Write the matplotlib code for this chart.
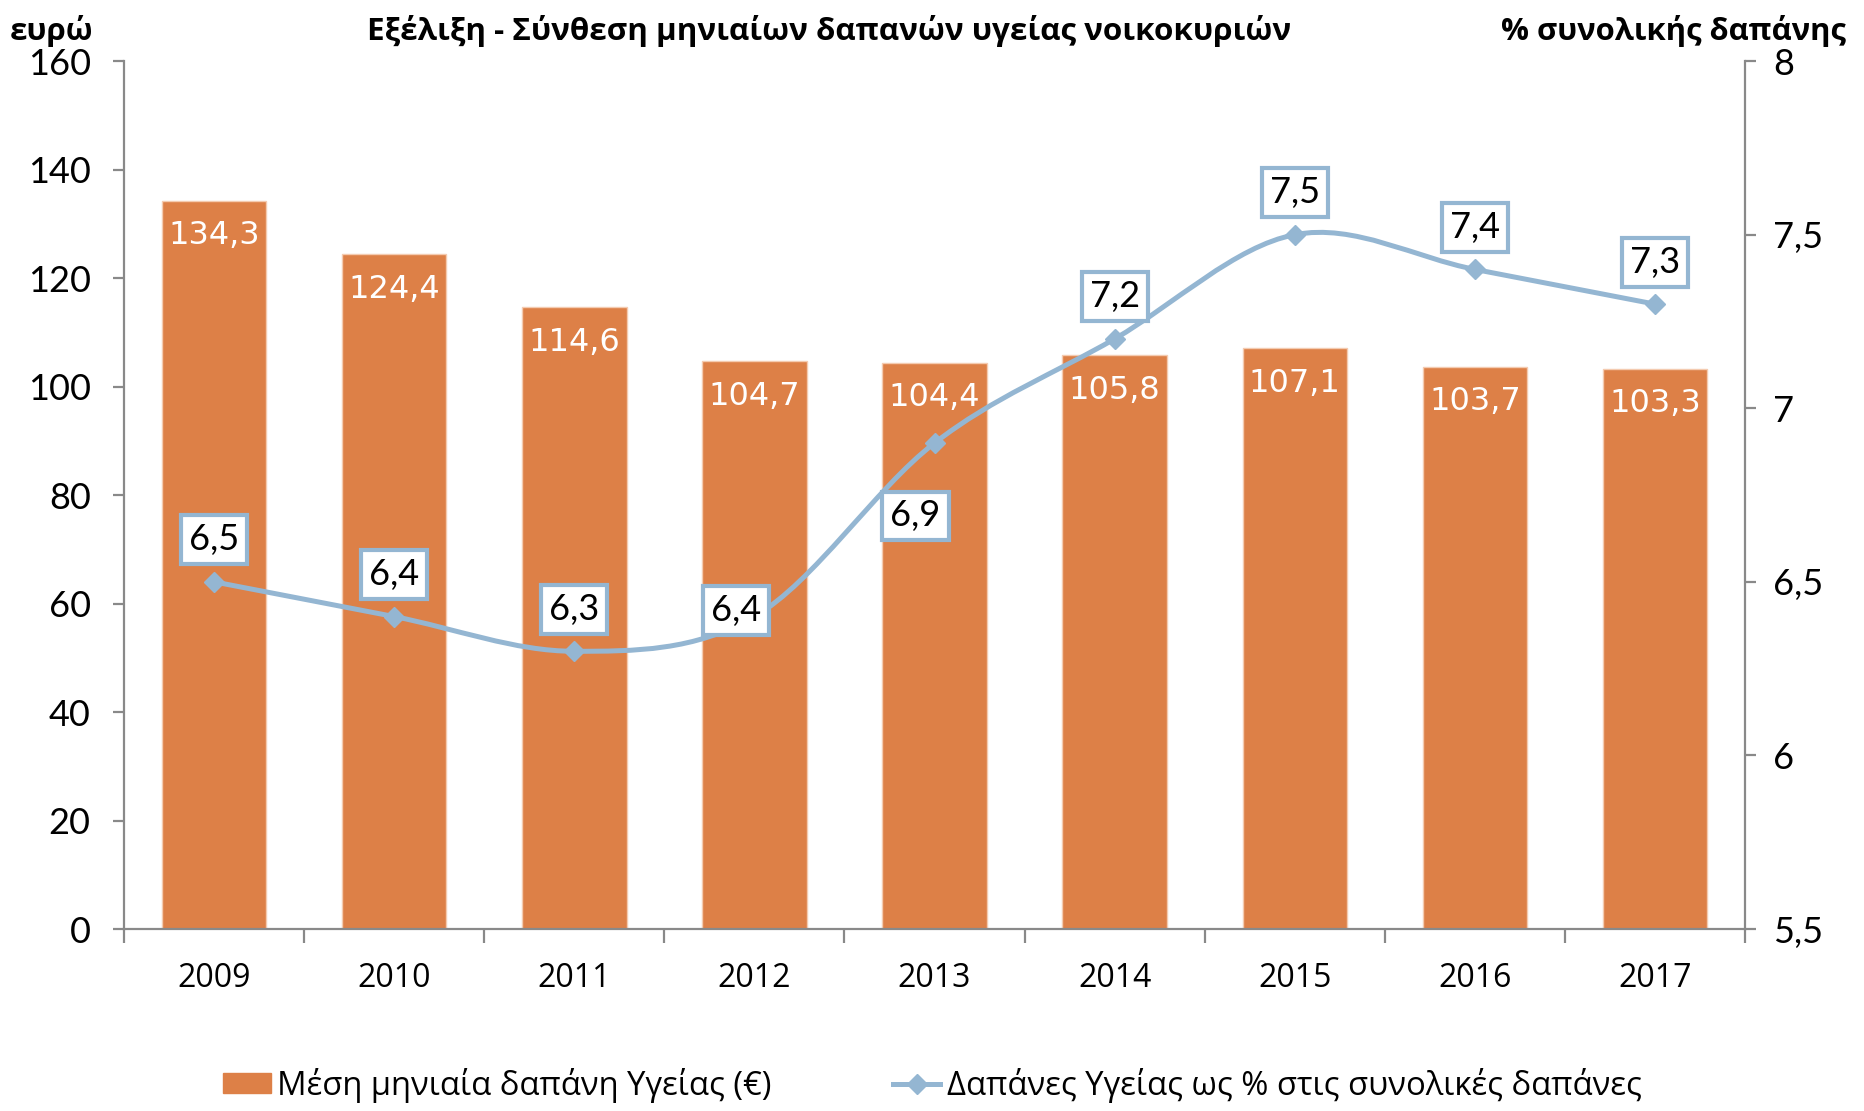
import matplotlib
matplotlib.use("Agg")
import matplotlib.pyplot as plt
from matplotlib.path import Path
from matplotlib.patches import PathPatch, Patch
from matplotlib.lines import Line2D

years = ["2009", "2010", "2011", "2012", "2013", "2014", "2015", "2016", "2017"]
spend = [134.3, 124.4, 114.6, 104.7, 104.4, 105.8, 107.1, 103.7, 103.3]
share = [6.5, 6.4, 6.3, 6.4, 6.9, 7.2, 7.5, 7.4, 7.3]
left_ticks = [0, 20, 40, 60, 80, 100, 120, 140, 160]
right_ticks = [5.5, 6.0, 6.5, 7.0, 7.5, 8.0]
right_tick_labels = ["5,5", "6", "6,5", "7", "7,5", "8"]

title = "Εξέλιξη - Σύνθεση μηνιαίων δαπανών υγείας νοικοκυριών"
left_label = "ευρώ"
right_label = "% συνολικής δαπάνης"
legend_bar = "Μέση μηνιαία δαπάνη Υγείας (€)"
legend_line = "Δαπάνες Υγείας ως % στις συνολικές δαπάνες"

BAR = "#DD8047"
LINE = "#94B6D2"
GRAY = "#898989"

plt.rcParams['font.family'] = ['Open Sans', 'DejaVu Sans']
NUMFONT = ['Lato', 'DejaVu Sans']
BARFONT = ['DejaVu Sans']

fig = plt.figure(figsize=(18.65, 11.11), dpi=100)
ax = fig.add_axes([0.0665, 0.1638, 0.8692, 0.7812])
ax2 = ax.twinx()

x = list(range(len(years)))
ax.bar(x, spend, width=0.58, color=BAR, edgecolor="#F4CBB0", linewidth=1.0, zorder=2)
ax.set_xlim(-0.5, len(years) - 0.5)
ax.set_ylim(0, 160)
ax2.set_ylim(5.5, 8)

for s in ["top", "right"]:
    ax.spines[s].set_visible(False)
for s in ["top", "left", "bottom"]:
    ax2.spines[s].set_visible(False)
for sp in [ax.spines["left"], ax.spines["bottom"], ax2.spines["right"]]:
    sp.set_color(GRAY)
    sp.set_linewidth(1.6)

ax.set_yticks(left_ticks)
ax.set_yticklabels([str(t) for t in left_ticks], fontfamily=NUMFONT)
ax.tick_params(axis='y', direction='out', length=8, width=1.6, color=GRAY,
               pad=16, labelsize=26)
ax2.set_yticks(right_ticks)
ax2.set_yticklabels(right_tick_labels, fontfamily=NUMFONT)
ax2.tick_params(axis='y', direction='out', length=8, width=1.6, color=GRAY,
                pad=12, labelsize=26)

ax.set_xticks(x)
ax.set_xticklabels(years)
ax.set_xticks([i - 0.5 for i in range(len(years) + 1)], minor=True)
ax.tick_params(axis='x', which='major', length=0, pad=23.5, labelsize=23)
ax.tick_params(axis='x', which='minor', direction='out', length=10, width=1.6, color=GRAY)

# bar value labels
for i, v in enumerate(spend):
    ax.annotate(f"{v:.1f}".replace(".", ","), xy=(i, v), xytext=(0, -35),
                textcoords='offset pixels', ha='center', va='center',
                color='white', fontsize=23, fontfamily=BARFONT, zorder=3)

# smooth line (Catmull-Rom -> cubic Bezier)
pts = list(zip(x, share))
verts = [pts[0]]
codes = [Path.MOVETO]
n = len(pts)
for i in range(n - 1):
    p0 = pts[i - 1] if i > 0 else pts[i]
    p1 = pts[i]
    p2 = pts[i + 1]
    p3 = pts[i + 2] if i + 2 < n else pts[i + 1]
    c1 = (p1[0] + (p2[0] - p0[0]) / 6.0, p1[1] + (p2[1] - p0[1]) / 6.0)
    c2 = (p2[0] - (p3[0] - p1[0]) / 6.0, p2[1] - (p3[1] - p1[1]) / 6.0)
    verts += [c1, c2, p2]
    codes += [Path.CURVE4] * 3
ax2.add_patch(PathPatch(Path(verts, codes), fill=False, edgecolor=LINE,
                        linewidth=3.6, capstyle='round', joinstyle='round', zorder=4))
ax2.plot(x, share, linestyle='none', marker='D', markersize=10, color=LINE, zorder=5)

# line value labels
offsets = [(0, 42), (0, 42), (0, 42), (-18, 6), (-19, -73), (0, 42), (0, 42), (0, 42), (0, 42)]
for i, v in enumerate(share):
    ax2.annotate(f"{v:.1f}".replace(".", ","), xy=(i, v), xytext=offsets[i],
                 textcoords='offset pixels', ha='center', va='center',
                 color='black', fontsize=26, fontfamily=NUMFONT, zorder=6,
                 bbox=dict(boxstyle='square,pad=0.22', facecolor='white',
                           edgecolor=LINE, linewidth=3.0))

fig.text(0.4445, 0.972, title, ha='center', va='center', fontsize=22.6, fontweight='bold')
fig.text(0.005, 0.972, left_label, ha='left', va='center', fontsize=22.5, fontweight='bold')
fig.text(0.990, 0.972, right_label, ha='right', va='center', fontsize=22.3, fontweight='bold')

handles = [Patch(facecolor=BAR, edgecolor=BAR),
           Line2D([0], [0], color=LINE, linewidth=3.6, marker='D', markersize=10)]
fig.legend(handles, [legend_bar, legend_line], loc='center', bbox_to_anchor=(0.5, 0.0234),
           ncol=2, frameon=False, fontsize=23.6, handlelength=1.45, handleheight=0.6,
           handletextpad=0.2, columnspacing=3.7)

fig.savefig("out.png", dpi=100)
